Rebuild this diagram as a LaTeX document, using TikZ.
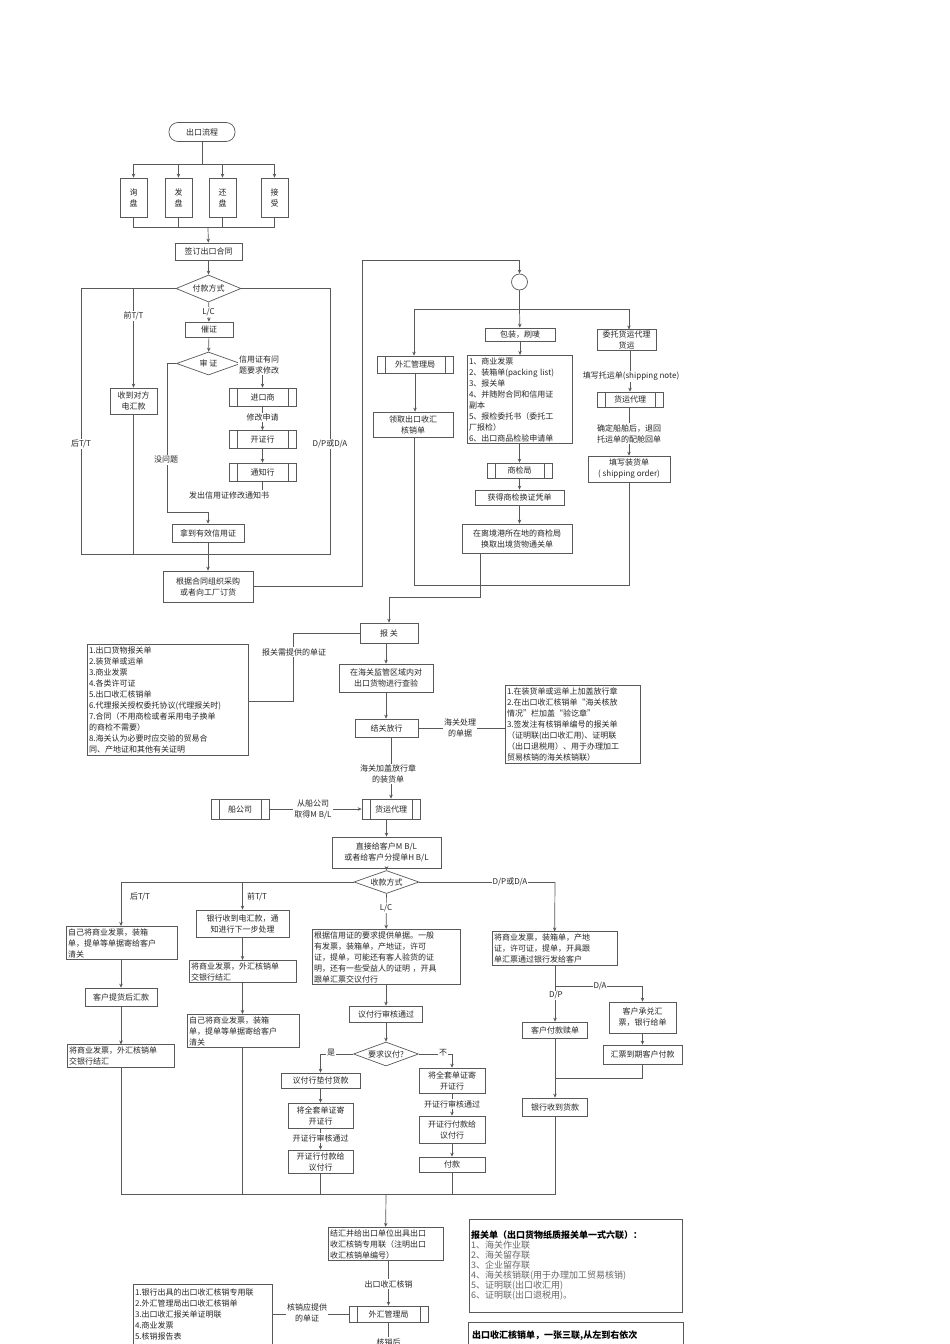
\documentclass[tikz,border=0pt]{standalone}
\usepackage{fontspec}
\setmainfont{Noto Sans CJK SC}
\usetikzlibrary{shapes.geometric,arrows.meta}
\begin{document}
\fontsize{8}{11}\selectfont
\begin{tikzpicture}[x=1pt,y=-1pt,
  ln/.style={draw=black!65,line width=0.7pt},
  arr/.style={ln,-{Stealth[length=4pt,width=3.5pt]}},
  box/.style={ln,rectangle,inner sep=1pt,align=center,text=black!85},
  lbox/.style={ln,rectangle,inner sep=2pt,align=left,text=black!85,text width=#1},
  pp/.style={box,path picture={
    \draw[black!65,line width=0.7pt] ([xshift=8pt]path picture bounding box.north west) -- ([xshift=8pt]path picture bounding box.south west);
    \draw[black!65,line width=0.7pt] ([xshift=-8pt]path picture bounding box.north east) -- ([xshift=-8pt]path picture bounding box.south east);}},
  dia/.style={ln,diamond,aspect=2.7,inner sep=0pt,text=black!85},
  lab/.style={fill=white,inner sep=1pt,align=center,text=black!85}]
\useasboundingbox (0,0) rectangle (950,1344);
\clip (0,0) rectangle (950,1344);
\fill[white] (0,0) rectangle (950,1344);
% ---------- top ----------
\node[box,rounded corners=9pt,minimum width=66,minimum height=19] (start) at (202,132) {出口流程};
\node[box,minimum width=27,minimum height=39] (q1) at (133.5,197.5) {询\\盘};
\node[box,minimum width=27,minimum height=39] (q2) at (178.5,197.5) {发\\盘};
\node[box,minimum width=27,minimum height=39] (q3) at (222.5,197.5) {还\\盘};
\node[box,minimum width=27,minimum height=39] (q4) at (274.5,197.5) {接\\受};
\coordinate (j1) at (202,164);
\coordinate (j2) at (208,227);
\draw[ln] (start) -- (j1);
\draw[arr] (j1) -| (q1); \draw[arr] (j1) -| (q2); \draw[arr] (j1) -| (q3); \draw[arr] (j1) -| (q4);
\draw[ln] (q1) |- (j2); \draw[ln] (q2) |- (j2); \draw[ln] (q3) |- (j2); \draw[ln] (q4) |- (j2);
\node[box,minimum width=67,minimum height=17] (sign) at (208.5,251.5) {签订出口合同};
\draw[arr] (j2) -- (sign);
\node[dia,minimum width=65,minimum height=27] (pay) at (208.5,288.5) {付款方式};
\draw[arr] (sign) -- (pay);
\coordinate (pl) at (81,288.5); \coordinate (pr) at (330,288.5);
\coordinate (pbl) at (81,554); \coordinate (pbr) at (330,554); \coordinate (pb) at (208,554);
\draw[ln] (pay.west) -- (pl) -- (pbl) -- (pbr) -- (pr) -- (pay.east);
\node[lab] at (81,444) {后T/T};
\node[lab] at (330,444) {D/P或D/A};
\node[box,minimum width=47,minimum height=26] (recv) at (133.5,401) {收到对方\\电汇款};
\coordinate (ptt) at (133.5,288.5);
\draw[arr] (ptt) -- (recv);
\node[lab] at (133.5,316) {前T/T};
\draw[ln] (recv) -- (recv |- pb);
\node[box,minimum width=48,minimum height=15] (cui) at (209,329.5) {催证};
\draw[arr] (pay) -- (cui);
\node[lab] at (208.5,312) {L/C};
\node[dia,minimum width=64,minimum height=23] (shen) at (208.5,363.5) {审 证};
\draw[arr] (cui) -- (shen);
\node[pp,minimum width=67,minimum height=18] (imp) at (262.5,397) {进口商};
\node[pp,minimum width=67,minimum height=18] (kzh) at (262.5,439.5) {开证行};
\node[pp,minimum width=67,minimum height=18] (tzh) at (262.5,472) {通知行};
\draw[arr] (shen.east) -| (imp);
\node[lab,align=left,anchor=west] at (238,364.5) {信用证有问\\题要求修改};
\draw[arr] (imp) -- (kzh);
\node[lab] at (262.5,417.5) {修改申请};
\draw[arr] (kzh) -- (tzh);
\node[box,minimum width=72,minimum height=18] (got) at (208,533) {拿到有效信用证};
\coordinate (nt) at (208,495);
\coordinate (np) at (167,512);
\draw[ln] (tzh) |- (nt);
\draw[arr] (shen.west) -| (np) -- (np -| got) -- (got);
\node[lab] at (229,495) {发出信用证修改通知书};
\node[lab] at (166,460) {没问题};
\draw[ln] (got) -- (pb);
\node[box,minimum width=90,minimum height=31] (buy) at (208,586.5) {根据合同组织采购\\或者向工厂订货};
\draw[arr] (pb) -- (buy);
% ---------- upper right ----------
\node[circle,ln,minimum size=16,inner sep=0] (circ) at (519.5,282) {};
\coordinate (c1) at (362,586.5); \coordinate (c2) at (362,260); \coordinate (c3) at (519.5,260);
\draw[arr] (buy.east) -- (c1) -- (c2) -- (c3) -- (circ);
\coordinate (br) at (519.5,309);
\coordinate (brl) at (414,309); \coordinate (brr) at (629,309);
\draw[ln] (circ) -- (br); \draw[ln] (brl) -- (brr);
\node[pp,minimum width=76,minimum height=17] (wh1) at (415,364.5) {外汇管理局};
\node[box,minimum width=80,minimum height=25] (lq) at (413,424.5) {领取出口收汇\\核销单};
\draw[arr] (brl) -- (brl |- wh1.north);
\draw[arr] (wh1) -- (wh1 |- lq.north);
\node[box,minimum width=70,minimum height=13] (pack) at (520,334.5) {包装，刷唛};
\draw[arr] (br) -- (pack);
\node[lbox=101] (doc) at (519.5,399.5) {1、商业发票\\2、装箱单(packing list)\\3、报关单\\4、并随附合同和信用证\\副本\\5、报检委托书（委托工\\厂报检）\\6、出口商品检验申请单};
\draw[arr] (pack) -- (pack |- doc.north);
\node[pp,minimum width=65,minimum height=15] (sjj) at (519.5,470.5) {商检局};
\draw[arr] (doc.south -| sjj) -- (sjj);
\node[box,minimum width=89,minimum height=15] (hd) at (519.5,497.5) {获得商检换证凭单};
\draw[arr] (sjj) -- (hd);
\node[box,minimum width=110,minimum height=29] (lj) at (517,538.5) {在离境港所在地的商检局\\换取出境货物通关单};
\draw[arr] (hd) -- (hd |- lj.north);
\node[box,minimum width=59,minimum height=20] (wt) at (626.5,340) {委托货运代理\\货运};
\draw[arr] (brr) -- (brr |- wt.north);
\node[pp,minimum width=66,minimum height=15] (hy1) at (630,399.5) {货运代理};
\draw[arr] (wt.south -| hy1) -- (hy1);
\node[lab] at (631,376.5) {填写托运单(shipping note)};
\node[box,minimum width=82,minimum height=26] (zhd) at (629,469) {填写装货单\\( shipping order)};
\draw[arr] (hy1.south -| zhd) -- (zhd);
\node[lab] at (629,433.5) {确定船舶后，退回\\托运单的配舱回单};
\coordinate (jl) at (414,585); \coordinate (jr) at (629,585); \coordinate (jm) at (480,585);
\coordinate (jm2) at (480,597);
\draw[ln] (lq.south -| jl) -- (jl) -- (jr) -- (zhd.south -| jr);
\draw[ln] (lj.south -| jm) -- (jm);
% ---------- middle ----------
\node[box,minimum width=58,minimum height=20] (bg) at (389,633) {报 关};
\draw[arr] (jm) -- (jm2) -| (bg);
\node[box,minimum width=94,minimum height=28] (cy) at (386,678) {在海关监管区域内对\\出口货物进行查验};
\draw[arr] (bg.south -| cy) -- (cy);
\node[box,minimum width=63,minimum height=18] (jg) at (386.5,728) {结关放行};
\draw[arr] (cy) -- (cy |- jg.north);
\node[lbox=157] (listL) at (167.5,700) {1.出口货物报关单\\2.装货单或运单\\3.商业发票\\4.各类许可证\\5.出口收汇核销单\\6.代理报关授权委托协议(代理报关时)\\7.合同（不用商检或者采用电子换单\\的商检不需要）\\8.海关认为必要时应交验的贸易合\\同、产地证和其他有关证明};
\coordinate (lc1) at (293,701); \coordinate (lc2) at (293,633);
\draw[ln] (listL.east |- lc1) -- (lc1) -- (lc2) -- (bg.west);
\node[lab] at (294,652) {报关需提供的单证};
\node[lbox=131] (listR) at (572.5,724.5) {1.在装货单或运单上加盖放行章\\2.在出口收汇核销单“海关核放\\情况”栏加盖“验讫章”\\3.签发注有核销单编号的报关单\\（证明联(出口收汇用)、证明联\\（出口退税用）、用于办理加工\\贸易核销的海关核销联）};
\draw[ln] (jg.east) -- (jg.east -| listR.west);
\node[lab] at (460,728) {海关处理\\的单据};
\node[pp,minimum width=58,minimum height=20] (hy2) at (391,809) {货运代理};
\draw[arr] (jg.south -| hy2) -- (hy2);
\node[lab] at (388,774) {海关加盖放行章\\的装货单};
\node[pp,minimum width=58,minimum height=20] (cgs) at (240,809) {船公司};
\draw[arr] (cgs) -- (hy2);
\node[lab] at (313,809) {从船公司\\取得M B/L};
\node[box,minimum width=109,minimum height=31] (zj) at (386.5,852.5) {直接给客户M B/L\\或者给客户分提单H B/L};
\draw[arr] (hy2.south -| zj) -- (zj);
\node[dia,minimum width=65,minimum height=23] (sk) at (386.5,882) {收款方式};
\draw[arr] (zj) -- (sk);
% ---------- lower ----------
\coordinate (sl) at (121,882); \coordinate (sm) at (242.5,882); \coordinate (sr) at (555,882);
\draw[ln] (sk.west) -- (sl);
\node[lbox=107] (a1) at (121.5,943) {自己将商业发票，装箱\\单，提单等单据寄给客户\\清关};
\draw[arr] (sl) -- (sl |- a1.north);
\node[lab] at (140,897) {后T/T};
\node[box,minimum width=72,minimum height=18] (a2) at (121,997) {客户提货后汇款};
\draw[arr] (a1.south -| a2) -- (a2);
\node[lbox=103] (a3) at (120.5,1056) {将商业发票，外汇核销单\\交银行结汇};
\draw[arr] (a2) -- (a2 |- a3.north);
\node[box,minimum width=93,minimum height=27] (b1) at (242.5,923.5) {银行收到电汇款，通\\知进行下一步处理};
\draw[arr] (sm) -- (b1);
\node[lab] at (257,897) {前T/T};
\node[lbox=103] (b2) at (242.5,971.5) {将商业发票，外汇核销单\\交银行结汇};
\draw[arr] (b1) -- (b2);
\node[lbox=108] (b3) at (243,1031) {自己将商业发票，装箱\\单，提单等单据寄给客户\\清关};
\draw[arr] (b2) -- (b2 |- b3.north);
\node[lbox=144] (c1n) at (386,957) {根据信用证的要求提供单据。一般\\有发票，装箱单，产地证，许可\\证，提单，可能还有客人验货的证\\明，还有一些受益人的证明 ，开具\\跟单汇票交议付行};
\draw[arr] (sk) -- (c1n);
\node[lab] at (386,908) {L/C};
\node[box,minimum width=73,minimum height=16] (c2n) at (386,1014) {议付行审核通过};
\draw[arr] (c1n) -- (c2n);
\node[dia,minimum width=65,minimum height=24] (yf) at (386,1054) {要求议付?};
\draw[arr] (c2n) -- (yf);
\node[box,minimum width=79,minimum height=15] (d1) at (320.5,1080.5) {议付行垫付货款};
\node[box,minimum width=65,minimum height=25] (d2) at (320.5,1115.5) {将全套单证寄\\开证行};
\node[box,minimum width=65,minimum height=23] (d3) at (320.5,1161.5) {开证行付款给\\议付行};
\draw[arr] (yf.west) -| (d1);
\node[lab] at (331,1053) {是};
\draw[arr] (d1) -- (d2);
\draw[arr] (d2) -- (d3);
\node[lab] at (320.5,1138) {开证行审核通过};
\node[box,minimum width=66,minimum height=25] (e1) at (452,1080.5) {将全套单证寄\\开证行};
\node[box,minimum width=66,minimum height=27] (e2) at (452,1129.5) {开证行付款给\\议付行};
\node[box,minimum width=66,minimum height=15] (e3) at (452,1164.5) {付款};
\draw[arr] (yf.east) -| (e1);
\node[lab] at (443,1053) {不};
\draw[arr] (e1) -- (e2);
\node[lab] at (452,1104) {开证行审核通过};
\draw[arr] (e2) -- (e3);
\draw[ln] (sk.east) -- (sr);
\node[lbox=121] (f1) at (554.5,948.5) {将商业发票，装箱单，产地\\证，许可证，提单，开具跟\\单汇票通过银行发给客户};
\draw[arr] (sr) -- (f1);
\node[lab] at (510,882) {D/P或D/A};
\coordinate (fb) at (555,986); \coordinate (fbr) at (642.5,986);
\node[box,minimum width=65,minimum height=16] (f2) at (555,1030) {客户付款赎单};
\node[box,minimum width=67,minimum height=31] (f3) at (642.5,1017.5) {客户承兑汇\\票，银行给单};
\node[box,minimum width=79,minimum height=19] (f4) at (642.5,1054.5) {汇票到期客户付款};
\draw[ln] (f1.south -| fb) -- (fb);
\draw[arr] (fb) -- (fbr) -- (f3);
\node[lab] at (600,986) {D/A};
\draw[arr] (fb) -- (f2);
\node[lab] at (556,995.5) {D/P};
\draw[arr] (f3) -- (f4);
\coordinate (gj) at (555,1078); \coordinate (gjr) at (642.5,1078);
\node[box,minimum width=65,minimum height=18] (g1) at (555,1107) {银行收到货款};
\draw[ln] (f4) -- (gjr) -- (gj);
\draw[arr] (f2) -- (g1);
\coordinate (hl) at (121,1194); \coordinate (hr) at (555,1194); \coordinate (hm) at (386,1194);
\draw[ln] (a3.south -| hl) -- (hl) -- (hr) -- (g1);
\draw[ln] (b3.south -| sm) -- (sm |- hl);
\draw[ln] (d3) -- (d3 |- hl);
\draw[ln] (e3) -- (e3 |- hl);
% ---------- bottom ----------
\node[lbox=111] (k1) at (385.5,1244) {结汇并给出口单位出具出口\\收汇核销专用联（注明出口\\收汇核销单编号）};
\draw[arr] (hm) -- (k1);
\node[pp,minimum width=79,minimum height=16] (wh2) at (388.5,1314) {外汇管理局};
\draw[arr] (k1.south -| wh2) -- (wh2);
\node[lab] at (388.5,1284) {出口收汇核销};
\coordinate (wend) at (388.5,1360);
\draw[ln] (wh2) -- (wend);
\node[lab] at (388.5,1342) {核销后};
\node[lbox=135,minimum height=60] (listB) at (202.5,1314.5) {1.银行出具的出口收汇核销专用联\\2.外汇管理局出口收汇核销单\\3.出口收汇报关单证明联\\4.商业发票\\5.核销报告表};
\draw[ln] (listB.east |- wh2) -- (wh2.west);
\node[lab] at (307,1313) {核销应提供\\的单证};
\node[lbox=209,minimum height=93,text=black!60,font=\fontsize{9}{10}\selectfont] (bgd) at (575.5,1265.5) {{\color{black}\bfseries 报关单（出口货物纸质报关单一式六联）：}\\1、海关作业联\\2、海关留存联\\3、企业留存联\\4、海关核销联(用于办理加工贸易核销)\\5、证明联(出口收汇用)\\6、证明联(出口退税用)。};
\node[ln,rectangle,minimum width=215,minimum height=40,anchor=north,inner sep=0] (hxd) at (575.5,1322) {};
\node[anchor=north west,inner sep=0,font=\fontsize{9}{10}\selectfont\bfseries] (hxt) at (472,1330) {出口收汇核销单，一张三联,从左到右依次};
\end{tikzpicture}
\end{document}
